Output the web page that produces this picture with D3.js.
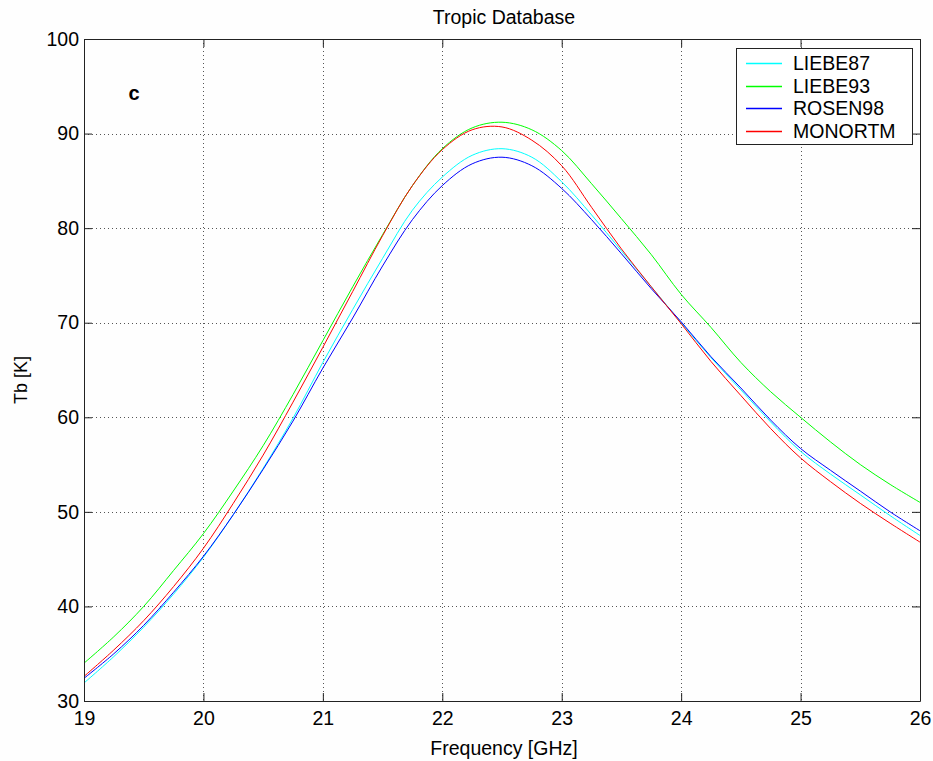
<!DOCTYPE html>
<html>
<head>
<meta charset="utf-8">
<script src="https://cdn.jsdelivr.net/npm/d3@7"></script>
<style>
  body { margin: 0; background: #fefefe; }
  svg { font-family: "Liberation Sans", Arial, sans-serif; }
  .grid line { stroke: #555; stroke-dasharray: 1,3; stroke-width: 1; }
</style>
</head>
<body>
<div id="chart"></div>
<script>
// frequency grid (GHz)
var freqs = [19, 19.25, 19.5, 19.75, 20, 20.25, 20.5, 20.75, 21, 21.25, 21.5, 21.75, 22,
             22.25, 22.5, 22.75, 23, 23.25, 23.5, 23.75, 24, 24.25, 24.5, 24.75, 25,
             25.25, 25.5, 25.75, 26];

// brightness temperatures (K)
var liebe87 = [31.9, 34.7, 37.8, 41.3, 45.2, 49.7, 54.6, 59.9, 65.8, 71.4, 76.8, 81.9, 85.4,
               87.7, 88.4, 87.5, 84.9, 81.4, 77.6, 73.8, 70.0, 66.3, 62.9, 59.5, 56.4,
               54.0, 51.8, 49.6, 47.5];
var liebe93 = [34.0, 36.8, 40.0, 43.8, 47.7, 52.2, 57.0, 62.4, 68.1, 73.8, 79.3, 84.5, 88.4,
               90.6, 91.2, 90.4, 88.2, 84.7, 81.0, 77.2, 73.0, 69.5, 65.8, 62.7, 60.0,
               57.4, 55.0, 52.9, 51.0];
var rosen98 = [32.4, 35.0, 38.0, 41.5, 45.3, 49.7, 54.5, 59.6, 65.2, 70.5, 76.0, 80.9, 84.5,
               86.8, 87.5, 86.6, 84.2, 80.9, 77.3, 73.6, 70.1, 66.4, 63.1, 59.7, 56.7,
               54.4, 52.2, 50.0, 48.0];
var monortm = [32.6, 35.4, 38.5, 42.1, 46.15, 50.9, 56.0, 61.6, 67.4, 73.3, 79.2, 84.5, 88.3,
               90.4, 90.7, 89.3, 86.6, 82.2, 77.8, 73.8, 69.9, 65.9, 62.3, 58.8, 55.7,
               53.2, 50.9, 48.8, 46.8];

var seriesNames = ["LIEBE87", "LIEBE93", "ROSEN98", "MONORTM"];
var seriesColors = ["#00ffff", "#00ff00", "#0000ff", "#ff0000"];
var xTicks = [19, 20, 21, 22, 23, 24, 25, 26];
var yTicks = [30, 40, 50, 60, 70, 80, 90, 100];

var series = [liebe87, liebe93, rosen98, monortm];

var W = 933, H = 761;
var margin = {top: 39, right: 13, bottom: 60, left: 84};
var width = W - margin.left - margin.right,
    height = H - margin.top - margin.bottom;

var svg = d3.select("#chart").append("svg")
    .attr("width", W)
    .attr("height", H);

var x = d3.scaleLinear().domain([19, 26]).range([0, width]);
var y = d3.scaleLinear().domain([30, 100]).range([height, 0]);

var g = svg.append("g")
    .attr("transform", "translate(" + margin.left + "," + margin.top + ")");

// dotted grid
var grid = g.append("g").attr("class", "grid");
grid.selectAll(".vx").data(xTicks.slice(1, -1)).enter().append("line")
    .attr("x1", function(d) { return Math.round(x(d)) + 0.5; })
    .attr("x2", function(d) { return Math.round(x(d)) + 0.5; })
    .attr("y1", 0).attr("y2", height);
grid.selectAll(".hy").data(yTicks.slice(1, -1)).enter().append("line")
    .attr("y1", function(d) { return Math.round(y(d)) + 0.5; })
    .attr("y2", function(d) { return Math.round(y(d)) + 0.5; })
    .attr("x1", 0).attr("x2", width);

// curves
var line = d3.line()
    .x(function(d, i) { return x(freqs[i]); })
    .y(function(d) { return y(d); })
    .curve(d3.curveCatmullRom.alpha(0.5));

g.selectAll(".curve").data(series).enter().append("path")
    .attr("class", "curve")
    .attr("d", line)
    .attr("fill", "none")
    .attr("stroke", function(d, i) { return seriesColors[i]; })
    .attr("stroke-width", 1);

// axes, ticks inward, box like matlab
var xAxis = d3.axisBottom(x).tickValues(xTicks).tickFormat(d3.format("d"))
    .tickSizeInner(-8).tickSizeOuter(0).tickPadding(14);
var yAxis = d3.axisLeft(y).tickValues(yTicks).tickFormat(d3.format("d"))
    .tickSizeInner(-8).tickSizeOuter(0).tickPadding(14);

var gx = g.append("g")
    .attr("transform", "translate(0," + height + ")")
    .call(xAxis);
var gy = g.append("g").call(yAxis);
g.append("g").call(d3.axisTop(x).tickValues(xTicks).tickSizeInner(-8).tickSizeOuter(0).tickFormat(""));
g.append("g").attr("transform", "translate(" + width + ",0)")
    .call(d3.axisRight(y).tickValues(yTicks).tickSizeInner(-8).tickSizeOuter(0).tickFormat(""));

g.selectAll(".domain").attr("stroke", "#222");
g.selectAll(".tick line").attr("stroke", "#222");
g.selectAll(".tick text")
    .attr("font-family", "Liberation Sans, Arial, sans-serif")
    .attr("font-size", 19.5)
    .attr("fill", "#000");
gx.selectAll(".tick text").attr("dy", "0.71em").attr("y", 10);
gy.selectAll(".tick text").attr("x", -5);

// titles
svg.append("text")
    .attr("x", margin.left + width / 2 + 2).attr("y", 24)
    .attr("text-anchor", "middle")
    .attr("font-size", 19.5)
    .text("Tropic Database");
svg.append("text")
    .attr("x", margin.left + width / 2 + 2).attr("y", 755)
    .attr("text-anchor", "middle")
    .attr("font-size", 19.5)
    .text("Frequency [GHz]");
svg.append("text")
    .attr("transform", "translate(27," + (margin.top + height / 2 + 10) + ") rotate(-90)")
    .attr("text-anchor", "middle")
    .attr("font-size", 18)
    .text("Tb [K]");

// panel letter
g.append("text")
    .attr("x", x(19.42)).attr("y", y(93.6))
    .attr("text-anchor", "middle")
    .attr("font-size", 20)
    .attr("font-weight", "bold")
    .text("c");

// legend
var leg = g.append("g").attr("transform", "translate(" + (width - 184) + ",9)");
leg.append("rect")
    .attr("x", 0.5).attr("y", 0.5)
    .attr("width", 176).attr("height", 96)
    .attr("fill", "#fff")
    .attr("stroke", "#222");
var item = leg.selectAll(".item").data(seriesNames).enter().append("g")
    .attr("transform", function(d, i) { return "translate(0," + Math.round(15 + i * 22.5) + ")"; });
item.append("line")
    .attr("x1", 10).attr("x2", 46)
    .attr("y1", 0.5).attr("y2", 0.5)
    .attr("stroke", function(d, i) { return seriesColors[i]; })
    .attr("stroke-width", 1.6);
item.append("text")
    .attr("x", 57).attr("dy", "0.36em")
    .attr("font-size", 19.5)
    .text(function(d) { return d; });
</script>
</body>
</html>
